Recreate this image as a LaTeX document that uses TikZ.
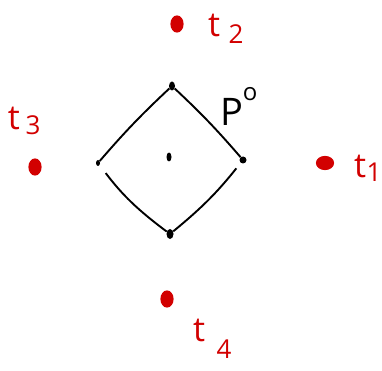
\documentclass[tikz,border=0pt]{standalone}
\usepackage{fontspec}
\setmainfont{DejaVu Sans}
\setsansfont{Open Sans}
\usetikzlibrary{shapes.geometric}
\definecolor{redink}{RGB}{210,0,0}
\begin{document}
\begin{tikzpicture}[x=1pt,y=-1pt,
  vdot/.style={ellipse,fill=black,inner sep=0pt,minimum width=6pt,minimum height=9pt},
  rdot/.style={ellipse,draw=redink,fill=redink,line width=1.2pt,inner sep=0pt,minimum width=12pt,minimum height=16pt},
  edge/.style={line width=1.9pt,black},
  lab/.style={text=redink,font=\fontsize{34}{34}\selectfont\sffamily,inner sep=0pt},
  sub/.style={text=redink,font=\fontsize{26}{26}\selectfont\sffamily,inner sep=0pt}]
\useasboundingbox (0,0) rectangle (382,371);
\node[vdot] (top) at (172,86) {};
\node[vdot,minimum width=4pt,minimum height=6pt] (left) at (98,163) {};
\node[vdot,minimum width=7pt,minimum height=7pt] (right) at (243,160) {};
\node[vdot,minimum width=7pt,minimum height=10pt] (bot) at (170,234) {};
\node[vdot,minimum width=5pt,minimum height=9pt] (ctr) at (169,157) {};
\draw[edge] (top) to[bend right=3] (left);
\draw[edge] (top) to[bend left=3] (right);
\draw[edge,shorten <=10pt] (left) to[bend right=8] (bot);
\draw[edge,shorten <=7pt] (right) to[bend left=6] (bot);
\node[inner sep=0pt,font=\fontsize{38}{38}\selectfont\sffamily] (P) at (232,112) {P};
\node[inner sep=0pt,font=\fontsize{24}{24}\selectfont\sffamily] (Po) at (250,94) {o};
\node[rdot] (d2) at (177,24) {};
\node[lab] (t2) at (214,25) {t};
\node[sub] (s2) at (236,34) {2};
\node[rdot] (d3) at (35,167) {};
\node[lab] (t3) at (14,118) {t};
\node[sub] (s3) at (33,125) {3};
\node[rdot,minimum width=17pt,minimum height=13pt] (d1) at (325,163) {};
\node[lab] (t1) at (360,166) {t};
\node[sub] (s1) at (374,172) {1};
\node[rdot] (d4) at (167,299) {};
\node[lab] (t4) at (199,330) {t};
\node[sub] (s4) at (224,349) {4};
\end{tikzpicture}
\end{document}
